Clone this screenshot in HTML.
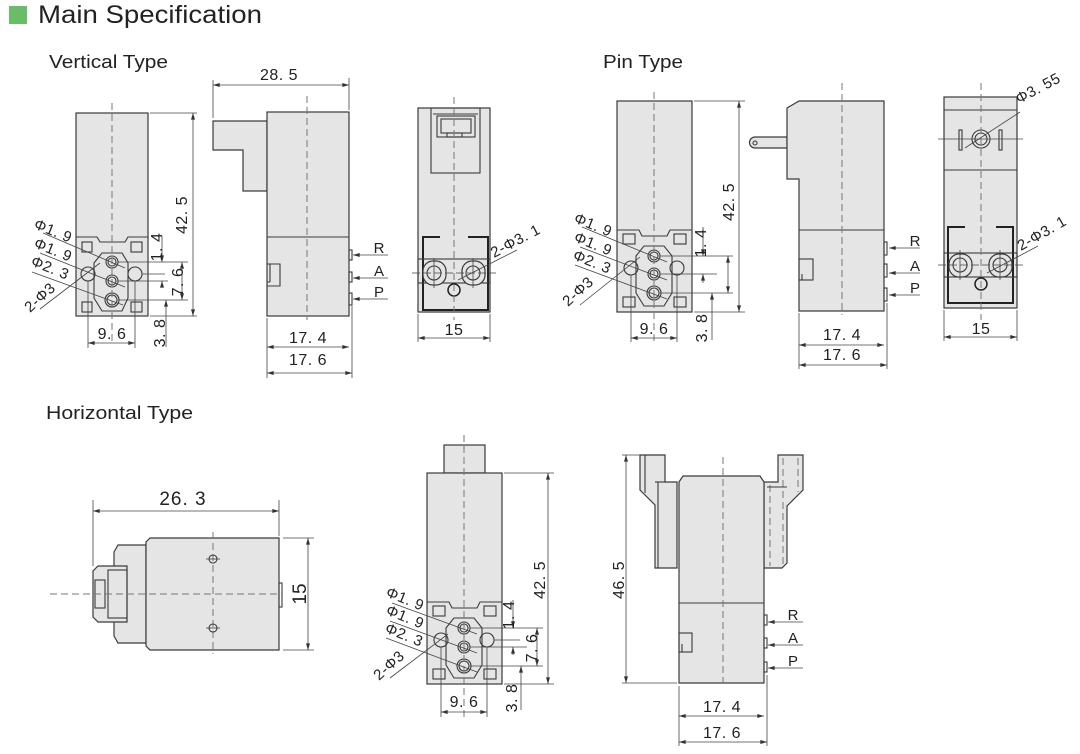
<!DOCTYPE html>
<html><head><meta charset="utf-8"><style>
html,body{margin:0;padding:0;background:#fff;}
svg{display:block;}
text{font-family:"Liberation Sans",Arial,sans-serif;fill:#222;}
.o{fill:#e5e5e5;stroke:#3a3a3a;stroke-width:1.2;}
.n{fill:none;stroke:#3a3a3a;stroke-width:1.1;}
.k{fill:none;stroke:#222;stroke-width:2;}
.t{fill:none;stroke:#444;stroke-width:0.8;}
.d{fill:none;stroke:#777;stroke-width:1;stroke-dasharray:7 4;}
.dm{font-size:16px;letter-spacing:0.5px;}
.lb{font-size:15px;letter-spacing:0.5px;}
.pl{font-size:15px;}
</style></head><body>
<svg width="1080" height="754" viewBox="0 0 1080 754" xmlns="http://www.w3.org/2000/svg">
<defs>
<marker id="ar" viewBox="0 0 10 6" refX="10" refY="3" markerWidth="8" markerHeight="4" orient="auto-start-reverse" markerUnits="userSpaceOnUse"><path d="M0,0 L10,3 L0,6 z" fill="#333"/></marker>
</defs>
<rect width="1080" height="754" fill="#fff"/>

<!-- Header -->
<rect x="9" y="6" width="18" height="18" fill="#69bd66"/>
<text x="38" y="23" font-size="25" textLength="224" lengthAdjust="spacingAndGlyphs">Main Specification</text>
<text x="49" y="68" font-size="18" textLength="119" lengthAdjust="spacingAndGlyphs">Vertical Type</text>
<text x="603" y="68" font-size="18" textLength="80" lengthAdjust="spacingAndGlyphs">Pin Type</text>
<text x="46" y="419" font-size="18" textLength="147" lengthAdjust="spacingAndGlyphs">Horizontal Type</text>

<!-- ========== Vertical front ========== -->
<rect class="o" x="76" y="113" width="72" height="203"/>
<path class="n" d="M76,237 H97 L100,242 H125 L128,237 H148"/>
<rect class="n" x="82" y="242" width="10" height="10"/>
<rect class="n" x="131" y="242" width="11" height="10"/>
<rect class="n" x="82" y="302" width="10" height="10"/>
<rect class="n" x="131" y="302" width="11" height="10"/>
<polygon class="n" points="102,253 122,253 128,263 128,298 122,311 102,311 94,298 94,263"/>
<circle class="n" cx="112" cy="262" r="6"/><circle class="n" cx="112" cy="262" r="4"/>
<circle class="n" cx="112" cy="281" r="6"/><circle class="n" cx="112" cy="281" r="4"/>
<circle class="n" cx="112" cy="300" r="7"/><circle class="n" cx="112" cy="300" r="5"/>
<circle class="n" cx="88" cy="274" r="7"/>
<circle class="n" cx="135" cy="274" r="7"/>
<line class="d" x1="112" y1="103" x2="112" y2="345"/>
<line class="t" x1="150" y1="113" x2="197" y2="113"/>
<line class="t" x1="150" y1="316" x2="197" y2="316"/>
<line class="t" x1="193" y1="113" x2="193" y2="316" marker-start="url(#ar)" marker-end="url(#ar)"/>
<text class="dm" transform="translate(187,215) rotate(-90)" text-anchor="middle">42. 5</text>
<line class="t" x1="118" y1="262" x2="188" y2="262"/>
<line class="t" x1="118" y1="281" x2="168" y2="281"/>
<line class="t" x1="118" y1="300" x2="188" y2="300"/>
<line class="t" x1="142" y1="274" x2="165" y2="274"/>
<line class="t" x1="162" y1="236" x2="162" y2="262" marker-end="url(#ar)"/>
<line class="t" x1="162" y1="287" x2="162" y2="281" marker-end="url(#ar)"/>
<line class="t" x1="166" y1="300" x2="166" y2="347" marker-start="url(#ar)"/>
<line class="t" x1="182" y1="262" x2="182" y2="300" marker-start="url(#ar)" marker-end="url(#ar)"/>
<text class="dm" transform="translate(162,247) rotate(-90)" text-anchor="middle">1. 4</text>
<text class="dm" transform="translate(183,282) rotate(-90)" text-anchor="middle">7. 6</text>
<text class="dm" transform="translate(165,333) rotate(-90)" text-anchor="middle">3. 8</text>
<line class="t" x1="88" y1="281" x2="88" y2="348"/>
<line class="t" x1="135" y1="281" x2="135" y2="348"/>
<line class="t" x1="88" y1="343" x2="135" y2="343" marker-start="url(#ar)" marker-end="url(#ar)"/>
<text class="dm" x="112" y="339" text-anchor="middle">9. 6</text>
<line class="t" x1="43" y1="233" x2="125" y2="268"/>
<line class="t" x1="40" y1="253" x2="125" y2="287"/>
<line class="t" x1="32" y1="272" x2="123" y2="305"/>
<line class="t" x1="40" y1="309" x2="100" y2="263"/>
<text class="lb" transform="translate(33,228) rotate(22)">Φ1. 9</text>
<text class="lb" transform="translate(33,247) rotate(22)">Φ1. 9</text>
<text class="lb" transform="translate(30,265) rotate(22)">Φ2. 3</text>
<text class="lb" transform="translate(30,313) rotate(-42)">2-Φ3</text>

<!-- ========== Vertical side ========== -->
<polygon class="o" points="213,121 267,121 267,191 243,191 243,150 213,150"/>
<rect class="o" x="267" y="112" width="82" height="204"/>
<line class="n" x1="267" y1="237" x2="349" y2="237"/>
<path class="n" d="M267,264 H280 V286 H267 M270,282 H267"/>
<line class="n" x1="270" y1="264" x2="270" y2="282"/>
<rect class="n" x="349" y="250" width="3" height="10"/>
<rect class="n" x="349" y="272" width="3" height="10"/>
<rect class="n" x="349" y="293" width="3" height="12"/>
<line class="d" x1="307" y1="96" x2="307" y2="320"/>
<line class="t" x1="388" y1="255" x2="353" y2="255" marker-end="url(#ar)"/>
<line class="t" x1="388" y1="278" x2="353" y2="278" marker-end="url(#ar)"/>
<line class="t" x1="388" y1="299" x2="353" y2="299" marker-end="url(#ar)"/>
<text class="pl" x="379" y="253" text-anchor="middle">R</text>
<text class="pl" x="379" y="276" text-anchor="middle">A</text>
<text class="pl" x="379" y="297" text-anchor="middle">P</text>
<line class="t" x1="213" y1="80" x2="213" y2="118"/>
<line class="t" x1="349" y1="78" x2="349" y2="110"/>
<line class="t" x1="213" y1="85" x2="349" y2="85" marker-start="url(#ar)" marker-end="url(#ar)"/>
<text class="dm" x="279" y="80" text-anchor="middle">28. 5</text>
<line class="t" x1="267" y1="318" x2="267" y2="378"/>
<line class="t" x1="352" y1="306" x2="352" y2="378"/>
<line class="t" x1="267" y1="347" x2="349" y2="347" marker-start="url(#ar)" marker-end="url(#ar)"/>
<line class="t" x1="267" y1="373" x2="352" y2="373" marker-start="url(#ar)" marker-end="url(#ar)"/>
<text class="dm" x="308" y="343" text-anchor="middle">17. 4</text>
<text class="dm" x="308" y="365" text-anchor="middle">17. 6</text>

<!-- ========== Vertical back ========== -->
<rect class="o" x="418" y="108" width="72" height="204"/>
<rect class="n" x="431" y="108" width="49" height="65"/>
<line class="n" x1="433" y1="114" x2="478" y2="114"/>
<rect class="n" x="437" y="116" width="38" height="21"/>
<rect class="n" x="441" y="119" width="30" height="14"/>
<rect class="n" x="447" y="133" width="15" height="4"/>
<path class="k" d="M440,237 H423 V310 H488 V237 H468"/>
<rect class="n" x="418" y="259" width="72" height="24"/>
<rect class="o" x="423" y="261" width="23" height="24" rx="10"/>
<rect class="o" x="462" y="261" width="23" height="24" rx="10"/>
<circle class="n" cx="434" cy="273" r="7"/>
<circle class="n" cx="473" cy="273" r="7"/>
<circle cx="454" cy="290" r="6" fill="#e5e5e5" stroke="#222" stroke-width="1.5"/>
<line class="t" x1="412" y1="273" x2="496" y2="273" stroke-dasharray="8 3"/>
<line class="t" x1="434" y1="258" x2="434" y2="288"/>
<line class="t" x1="473" y1="258" x2="473" y2="288"/>
<line class="d" x1="454" y1="97" x2="454" y2="320"/>
<line class="t" x1="458" y1="280" x2="517" y2="250"/>
<text class="lb" transform="translate(494,258) rotate(-28)">2-Φ3. 1</text>
<line class="t" x1="418" y1="314" x2="418" y2="342"/>
<line class="t" x1="490" y1="314" x2="490" y2="342"/>
<line class="t" x1="418" y1="338" x2="490" y2="338" marker-start="url(#ar)" marker-end="url(#ar)"/>
<text class="dm" x="454" y="335" text-anchor="middle">15</text>

<!-- ========== Pin front ========== -->
<rect class="o" x="617" y="101" width="75" height="211"/>
<path class="n" d="M617,230 H639 L642,236 H667 L670,230 H692"/>
<rect class="n" x="623" y="234" width="12" height="10"/>
<rect class="n" x="674" y="234" width="12" height="10"/>
<rect class="n" x="623" y="297" width="12" height="10"/>
<rect class="n" x="674" y="297" width="12" height="10"/>
<polygon class="n" points="644,246 664,246 672,256 672,293 664,306 644,306 636,293 636,256"/>
<circle class="n" cx="654" cy="256" r="6"/><circle class="n" cx="654" cy="256" r="4"/>
<circle class="n" cx="654" cy="274" r="6"/><circle class="n" cx="654" cy="274" r="4"/>
<circle class="n" cx="654" cy="293" r="7"/><circle class="n" cx="654" cy="293" r="5"/>
<circle class="n" cx="631" cy="268" r="7"/>
<circle class="n" cx="677" cy="268" r="7"/>
<line class="d" x1="654" y1="92" x2="654" y2="343"/>
<line class="t" x1="694" y1="101" x2="745" y2="101"/>
<line class="t" x1="694" y1="312" x2="745" y2="312"/>
<line class="t" x1="739" y1="101" x2="739" y2="312" marker-start="url(#ar)" marker-end="url(#ar)"/>
<text class="dm" transform="translate(734,202) rotate(-90)" text-anchor="middle">42. 5</text>
<line class="t" x1="660" y1="256" x2="733" y2="256"/>
<line class="t" x1="660" y1="274" x2="717" y2="274"/>
<line class="t" x1="660" y1="293" x2="733" y2="293"/>
<line class="t" x1="703" y1="227" x2="703" y2="256" marker-end="url(#ar)"/>
<line class="t" x1="703" y1="283" x2="703" y2="274" marker-end="url(#ar)"/>
<line class="t" x1="712" y1="293" x2="712" y2="340" marker-start="url(#ar)"/>
<line class="t" x1="728" y1="256" x2="728" y2="293" marker-start="url(#ar)" marker-end="url(#ar)"/>
<text class="dm" transform="translate(706,243) rotate(-90)" text-anchor="middle">1. 4</text>
<text class="dm" transform="translate(707,328) rotate(-90)" text-anchor="middle">3. 8</text>
<line class="t" x1="631" y1="275" x2="631" y2="342"/>
<line class="t" x1="677" y1="275" x2="677" y2="342"/>
<line class="t" x1="631" y1="338" x2="677" y2="338" marker-start="url(#ar)" marker-end="url(#ar)"/>
<text class="dm" x="654" y="334" text-anchor="middle">9. 6</text>
<line class="t" x1="582" y1="227" x2="667" y2="262"/>
<line class="t" x1="580" y1="247" x2="667" y2="280"/>
<line class="t" x1="575" y1="265" x2="667" y2="299"/>
<line class="t" x1="580" y1="305" x2="640" y2="257"/>
<text class="lb" transform="translate(573,222) rotate(22)">Φ1. 9</text>
<text class="lb" transform="translate(573,241) rotate(22)">Φ1. 9</text>
<text class="lb" transform="translate(572,259) rotate(22)">Φ2. 3</text>
<text class="lb" transform="translate(568,307) rotate(-42)">2-Φ3</text>

<!-- ========== Pin side ========== -->
<path class="o" d="M787,137 H755 A5.5,5.5 0 0 0 755,148 H787 Z"/>
<circle class="n" cx="755" cy="143" r="2"/>
<polygon class="o" points="787,108 799,101 884,101 884,311 799,311 799,179 787,179"/>
<line class="n" x1="799" y1="230" x2="884" y2="230"/>
<rect class="n" x="799" y="259" width="14" height="21"/>
<line class="n" x1="802" y1="274" x2="802" y2="280"/>
<rect class="n" x="884" y="242" width="3" height="13"/>
<rect class="n" x="884" y="264" width="3" height="13"/>
<rect class="n" x="884" y="288" width="3" height="13"/>
<line class="d" x1="842" y1="83" x2="842" y2="315"/>
<line class="t" x1="920" y1="248" x2="889" y2="248" marker-end="url(#ar)"/>
<line class="t" x1="920" y1="273" x2="889" y2="273" marker-end="url(#ar)"/>
<line class="t" x1="920" y1="295" x2="889" y2="295" marker-end="url(#ar)"/>
<text class="pl" x="915" y="246" text-anchor="middle">R</text>
<text class="pl" x="915" y="271" text-anchor="middle">A</text>
<text class="pl" x="915" y="293" text-anchor="middle">P</text>
<line class="t" x1="799" y1="313" x2="799" y2="369"/>
<line class="t" x1="887" y1="303" x2="887" y2="369"/>
<line class="t" x1="799" y1="345" x2="884" y2="345" marker-start="url(#ar)" marker-end="url(#ar)"/>
<line class="t" x1="799" y1="365" x2="887" y2="365" marker-start="url(#ar)" marker-end="url(#ar)"/>
<text class="dm" x="842" y="340" text-anchor="middle">17. 4</text>
<text class="dm" x="842" y="360" text-anchor="middle">17. 6</text>

<!-- ========== Pin back ========== -->
<rect class="o" x="944" y="97" width="73" height="211"/>
<line class="n" x1="944" y1="110" x2="1017" y2="110"/>
<line class="n" x1="944" y1="170" x2="1017" y2="170"/>
<rect class="n" x="959" y="130" width="3" height="20"/>
<rect class="n" x="999" y="130" width="3" height="20"/>
<circle class="n" cx="981" cy="139" r="9"/>
<circle class="n" cx="981" cy="139" r="6"/>
<line class="t" x1="938" y1="139" x2="1023" y2="139"/>
<line class="t" x1="965" y1="148" x2="1020" y2="112"/>
<text class="lb" transform="translate(1019,104) rotate(-28)">Φ3. 55</text>
<path class="k" d="M965,227 H948 V303 H1013 V227 H996"/>
<rect class="n" x="944" y="253" width="73" height="24"/>
<rect class="o" x="949" y="254" width="23" height="23" rx="10"/>
<rect class="o" x="989" y="254" width="23" height="23" rx="10"/>
<circle class="n" cx="960" cy="265" r="7"/>
<circle class="n" cx="1000" cy="265" r="7"/>
<circle cx="981" cy="284" r="6" fill="#e5e5e5" stroke="#222" stroke-width="1.5"/>
<line class="t" x1="938" y1="265" x2="1023" y2="265" stroke-dasharray="8 3"/>
<line class="t" x1="960" y1="250" x2="960" y2="280"/>
<line class="t" x1="1000" y1="250" x2="1000" y2="280"/>
<line class="d" x1="981" y1="83" x2="981" y2="320"/>
<line class="t" x1="987" y1="273" x2="1038" y2="246"/>
<text class="lb" transform="translate(1021,251) rotate(-30)">2-Φ3. 1</text>
<line class="t" x1="944" y1="310" x2="944" y2="341"/>
<line class="t" x1="1017" y1="310" x2="1017" y2="341"/>
<line class="t" x1="944" y1="337" x2="1017" y2="337" marker-start="url(#ar)" marker-end="url(#ar)"/>
<text class="dm" x="981" y="334" text-anchor="middle">15</text>

<!-- ========== Horizontal left ========== -->
<polygon class="o" points="146,545 118,545 114,552 114,636 118,643 146,643"/>
<polygon class="o" points="150,538 279,538 279,650 150,650 146,646 146,542"/>
<polygon class="o" points="98,566 127,566 127,622 98,622 93,617 93,571"/>
<rect class="n" x="108" y="570" width="19" height="48"/>
<rect class="n" x="95" y="580" width="10" height="28"/>
<rect class="n" x="279" y="583" width="3" height="24"/>
<line class="d" x1="50" y1="594" x2="282" y2="594"/>
<line class="d" x1="213" y1="532" x2="213" y2="654"/>
<circle class="n" cx="213" cy="559" r="4"/>
<line class="t" x1="206" y1="559" x2="220" y2="559"/>
<circle class="n" cx="213" cy="628" r="4"/>
<line class="t" x1="206" y1="628" x2="220" y2="628"/>
<line class="t" x1="93" y1="500" x2="93" y2="566"/>
<line class="t" x1="279" y1="500" x2="279" y2="536"/>
<line class="t" x1="93" y1="511" x2="279" y2="511" marker-start="url(#ar)" marker-end="url(#ar)"/>
<text x="183" y="505" text-anchor="middle" font-size="19" letter-spacing="1">26. 3</text>
<line class="t" x1="283" y1="538" x2="314" y2="538"/>
<line class="t" x1="283" y1="650" x2="314" y2="650"/>
<line class="t" x1="308" y1="538" x2="308" y2="650" marker-start="url(#ar)" marker-end="url(#ar)"/>
<text transform="translate(306,594) rotate(-90)" text-anchor="middle" font-size="19">15</text>

<!-- ========== Horizontal middle ========== -->
<rect class="o" x="444" y="445" width="41" height="28"/>
<rect class="o" x="427" y="473" width="75" height="211"/>
<path class="n" d="M427,602 H449 L452,608 H477 L480,602 H502"/>
<rect class="n" x="433" y="606" width="12" height="10"/>
<rect class="n" x="484" y="606" width="12" height="10"/>
<rect class="n" x="433" y="669" width="12" height="10"/>
<rect class="n" x="484" y="669" width="12" height="10"/>
<polygon class="n" points="454,618 474,618 482,628 482,665 474,678 454,678 446,665 446,628"/>
<circle class="n" cx="464" cy="628" r="6"/><circle class="n" cx="464" cy="628" r="4"/>
<circle class="n" cx="464" cy="647" r="6"/><circle class="n" cx="464" cy="647" r="4"/>
<circle class="n" cx="464" cy="666" r="7"/><circle class="n" cx="464" cy="666" r="5"/>
<circle class="n" cx="441" cy="640" r="7"/>
<circle class="n" cx="487" cy="640" r="7"/>
<line class="d" x1="464" y1="435" x2="464" y2="720"/>
<line class="t" x1="504" y1="473" x2="554" y2="473"/>
<line class="t" x1="504" y1="684" x2="554" y2="684"/>
<line class="t" x1="548" y1="473" x2="548" y2="684" marker-start="url(#ar)" marker-end="url(#ar)"/>
<text class="dm" transform="translate(545,580) rotate(-90)" text-anchor="middle">42. 5</text>
<line class="t" x1="470" y1="628" x2="543" y2="628"/>
<line class="t" x1="470" y1="647" x2="527" y2="647"/>
<line class="t" x1="470" y1="666" x2="543" y2="666"/>
<line class="t" x1="494" y1="640" x2="520" y2="640"/>
<line class="t" x1="513" y1="600" x2="513" y2="628" marker-end="url(#ar)"/>
<line class="t" x1="513" y1="655" x2="513" y2="647" marker-end="url(#ar)"/>
<line class="t" x1="521" y1="666" x2="521" y2="710" marker-start="url(#ar)"/>
<line class="t" x1="537" y1="628" x2="537" y2="666" marker-start="url(#ar)" marker-end="url(#ar)"/>
<text class="dm" transform="translate(514,615) rotate(-90)" text-anchor="middle">1. 4</text>
<text class="dm" transform="translate(537,648) rotate(-90)" text-anchor="middle">7. 6</text>
<text class="dm" transform="translate(517,698) rotate(-90)" text-anchor="middle">3. 8</text>
<line class="t" x1="441" y1="647" x2="441" y2="717"/>
<line class="t" x1="487" y1="647" x2="487" y2="717"/>
<line class="t" x1="441" y1="712" x2="487" y2="712" marker-start="url(#ar)" marker-end="url(#ar)"/>
<text class="dm" x="464" y="707" text-anchor="middle">9. 6</text>
<line class="t" x1="392" y1="603" x2="477" y2="634"/>
<line class="t" x1="390" y1="621" x2="477" y2="653"/>
<line class="t" x1="386" y1="638" x2="477" y2="672"/>
<line class="t" x1="390" y1="678" x2="448" y2="634"/>
<text class="lb" transform="translate(385,596) rotate(22)">Φ1. 9</text>
<text class="lb" transform="translate(385,614) rotate(22)">Φ1. 9</text>
<text class="lb" transform="translate(384,632) rotate(22)">Φ2. 3</text>
<text class="lb" transform="translate(379,681) rotate(-42)">2-Φ3</text>

<!-- ========== Horizontal right ========== -->
<polygon class="o" points="640,455 665,455 665,482 677,482 677,568 655,568 655,505 640,490"/>
<line class="n" x1="645" y1="455" x2="645" y2="493"/>
<line class="n" x1="658" y1="482" x2="658" y2="568"/>
<line class="n" x1="655" y1="482" x2="665" y2="482"/>
<polygon class="o" points="778,455 803,455 803,490 787,506 787,563 782,568 764,568 764,482 778,482"/>
<line class="d" x1="770" y1="485" x2="770" y2="566"/>
<line class="d" x1="783" y1="458" x2="783" y2="566"/>
<line class="d" x1="798" y1="458" x2="798" y2="492"/>
<line class="n" x1="767" y1="487" x2="787" y2="487"/>
<polygon class="o" points="679,482 683,476 760,476 764,482 764,683 679,683"/>
<line class="n" x1="679" y1="603" x2="764" y2="603"/>
<rect class="n" x="679" y="633" width="13" height="19"/>
<line class="n" x1="682" y1="644" x2="682" y2="652"/>
<rect class="n" x="764" y="615" width="3" height="10"/>
<rect class="n" x="764" y="638" width="3" height="10"/>
<rect class="n" x="764" y="662" width="3" height="10"/>
<line class="d" x1="723" y1="457" x2="723" y2="688"/>
<line class="t" x1="803" y1="622" x2="768" y2="622" marker-end="url(#ar)"/>
<line class="t" x1="803" y1="645" x2="768" y2="645" marker-end="url(#ar)"/>
<line class="t" x1="803" y1="668" x2="768" y2="668" marker-end="url(#ar)"/>
<text class="pl" x="793" y="620" text-anchor="middle">R</text>
<text class="pl" x="793" y="643" text-anchor="middle">A</text>
<text class="pl" x="793" y="666" text-anchor="middle">P</text>
<line class="t" x1="622" y1="455" x2="640" y2="455"/>
<line class="t" x1="622" y1="683" x2="677" y2="683"/>
<line class="t" x1="626" y1="455" x2="626" y2="683" marker-start="url(#ar)" marker-end="url(#ar)"/>
<text class="dm" transform="translate(624,580) rotate(-90)" text-anchor="middle">46. 5</text>
<line class="t" x1="679" y1="686" x2="679" y2="746"/>
<line class="t" x1="767" y1="675" x2="767" y2="746"/>
<line class="t" x1="679" y1="716" x2="764" y2="716" marker-start="url(#ar)" marker-end="url(#ar)"/>
<line class="t" x1="679" y1="742" x2="767" y2="742" marker-start="url(#ar)" marker-end="url(#ar)"/>
<text class="dm" x="722" y="712" text-anchor="middle">17. 4</text>
<text class="dm" x="722" y="738" text-anchor="middle">17. 6</text>
</svg>
</body></html>
